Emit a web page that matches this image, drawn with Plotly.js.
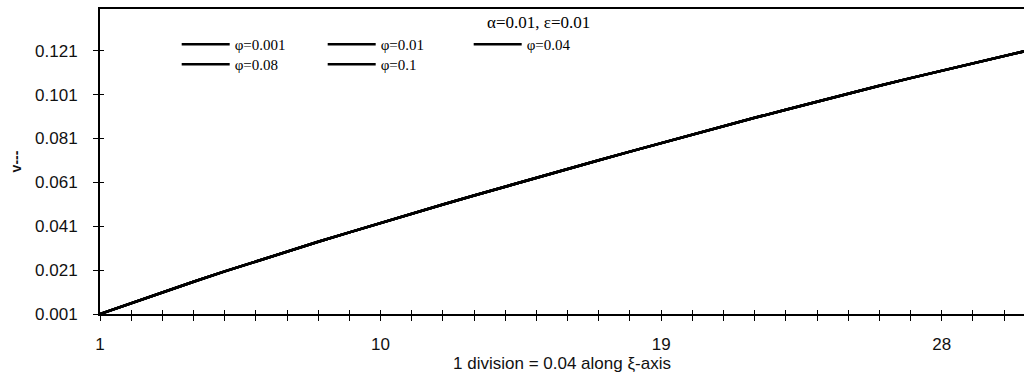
<!DOCTYPE html>
<html>
<head>
<meta charset="utf-8">
<script src="https://cdn.plot.ly/plotly-3.0.1.min.js"></script>
<style>
html,body{margin:0;padding:0;background:#fff;}
#chart{width:1024px;height:385px;}
</style>
</head>
<body>
<div id="chart"></div>
<script>
// x-axis divisions (1 division = 0.04 along xi-axis)
const divisions = [1,2,3,4,5,6,7,8,9,10,11,12,13,14,15,16,17,18,19,20,21,22,23,24,25,26,27,28,29,30,31];
const xTickVals = [1,10,19,28];
const yTickVals = [0.001,0.021,0.041,0.061,0.081,0.101,0.121];
const seriesNames = ["φ=0.001","φ=0.01","φ=0.04","φ=0.08","φ=0.1"];
const v_phi0001 = [0.0010,0.0060,0.0109,0.0157,0.0204,0.0250,0.0295,0.0339,0.0382,0.0425,0.0467,0.0509,0.0550,0.0591,0.0631,0.0671,0.0711,0.0750,0.0789,0.0828,0.0866,0.0904,0.0941,0.0978,0.1014,0.1050,0.1085,0.1119,0.1153,0.1186,0.1219];
const v_phi001  = [0.0010,0.0060,0.0109,0.0157,0.0204,0.0250,0.0295,0.0339,0.0382,0.0425,0.0467,0.0509,0.0550,0.0591,0.0631,0.0671,0.0711,0.0750,0.0789,0.0828,0.0866,0.0904,0.0941,0.0978,0.1014,0.1050,0.1085,0.1119,0.1153,0.1186,0.1219];
const v_phi004  = [0.0010,0.0060,0.0109,0.0157,0.0204,0.0250,0.0295,0.0339,0.0382,0.0425,0.0467,0.0509,0.0550,0.0591,0.0631,0.0671,0.0711,0.0750,0.0789,0.0828,0.0866,0.0904,0.0941,0.0978,0.1014,0.1050,0.1085,0.1119,0.1153,0.1186,0.1219];
const v_phi008  = [0.0010,0.0060,0.0109,0.0157,0.0204,0.0250,0.0295,0.0339,0.0382,0.0425,0.0467,0.0509,0.0550,0.0591,0.0631,0.0671,0.0711,0.0750,0.0789,0.0828,0.0866,0.0904,0.0941,0.0978,0.1014,0.1050,0.1085,0.1119,0.1153,0.1186,0.1219];
const v_phi01   = [0.0010,0.0060,0.0109,0.0157,0.0204,0.0250,0.0295,0.0339,0.0382,0.0425,0.0467,0.0509,0.0550,0.0591,0.0631,0.0671,0.0711,0.0750,0.0789,0.0828,0.0866,0.0904,0.0941,0.0978,0.1014,0.1050,0.1085,0.1119,0.1153,0.1186,0.1219];
const seriesValues = [v_phi0001, v_phi001, v_phi004, v_phi008, v_phi01];
const seriesLegend = ["legend","legend","legend","legend2","legend2"];

const traces = seriesNames.map((name, i) => ({
  type: "scatter", mode: "lines", name: name,
  x: divisions, y: seriesValues[i],
  line: {color: "#000", width: 2.5},
  legend: seriesLegend[i],
  xaxis: "x", yaxis: "y"
}));
// invisible helper trace so the crossing (inside) ticks axes are drawn
traces.push({type:"scatter", mode:"lines", x:[null], y:[null], xaxis:"x2", yaxis:"y2", showlegend:false, hoverinfo:"skip"});

const serif = "Liberation Serif, Times New Roman, serif";
const sans = "Liberation Sans, Arial, sans-serif";
const legendCommon = {
  orientation: "h", xanchor: "left", yanchor: "top",
  bgcolor: "rgba(0,0,0,0)", borderwidth: 0,
  font: {family: serif, size: 15, color: "#000"},
  itemwidth: 48, entrywidth: 83, entrywidthmode: "pixels",
  tracegroupgap: 0, traceorder: "normal"
};

const layout = {
  width: 1024, height: 385,
  margin: {l: 100, r: 0, t: 9, b: 71, pad: 0},
  paper_bgcolor: "#fff", plot_bgcolor: "#fff",
  showlegend: true,
  xaxis: {
    range: [1, 30.64], tickvals: xTickVals, ticktext: xTickVals.map(String),
    ticks: "outside", ticklen: 5, tickwidth: 1, tickcolor: "#000",
    minor: {dtick: 1, tick0: 1, ticks: "outside", ticklen: 5, tickwidth: 1, tickcolor: "#000", showgrid: false},
    showline: true, linewidth: 2, linecolor: "#000", mirror: true,
    showgrid: false, zeroline: false,
    tickfont: {family: sans, size: 17, color: "#111"},
    ticklabelstandoff: 9,
    title: {text: "1 division = 0.04 along ξ-axis", font: {family: sans, size: 17, color: "#111"}, standoff: 4}
  },
  yaxis: {
    range: [0.001, 0.140], tickvals: yTickVals, tickformat: ".3f",
    ticks: "outside", ticklen: 5, tickwidth: 1, tickcolor: "#000",
    showline: true, linewidth: 2, linecolor: "#000", mirror: false,
    showgrid: false, zeroline: false,
    tickfont: {family: sans, size: 17, color: "#111"},
    ticklabelstandoff: 12,
    title: {text: "<b>v---</b>", font: {family: sans, size: 14, color: "#111"}, standoff: 10}
  },
  xaxis2: {overlaying: "x", matches: "x", range: [1, 30.64], dtick: 1, tick0: 1, ticks: "inside", ticklen: 4, tickwidth: 1, tickcolor: "#000", showticklabels: false, showgrid: false, zeroline: false, showline: false},
  yaxis2: {overlaying: "y", matches: "y", range: [0.001, 0.140], tickvals: yTickVals, ticks: "inside", ticklen: 4, tickwidth: 1, tickcolor: "#000", showticklabels: false, showgrid: false, zeroline: false, showline: false},
  legend: Object.assign({}, legendCommon, {x: 0.083, y: 0.938}),
  legend2: Object.assign({}, legendCommon, {x: 0.083, y: 0.872}),
  annotations: [{
    text: "α=0.01, ε=0.01", xref: "paper", yref: "paper", x: 0.475, y: 0.957,
    xanchor: "center", yanchor: "middle", showarrow: false,
    font: {family: serif, size: 17, color: "#000"}
  }]
};

Plotly.newPlot("chart", traces, layout, {displayModeBar: false, staticPlot: true});
</script>
</body>
</html>
